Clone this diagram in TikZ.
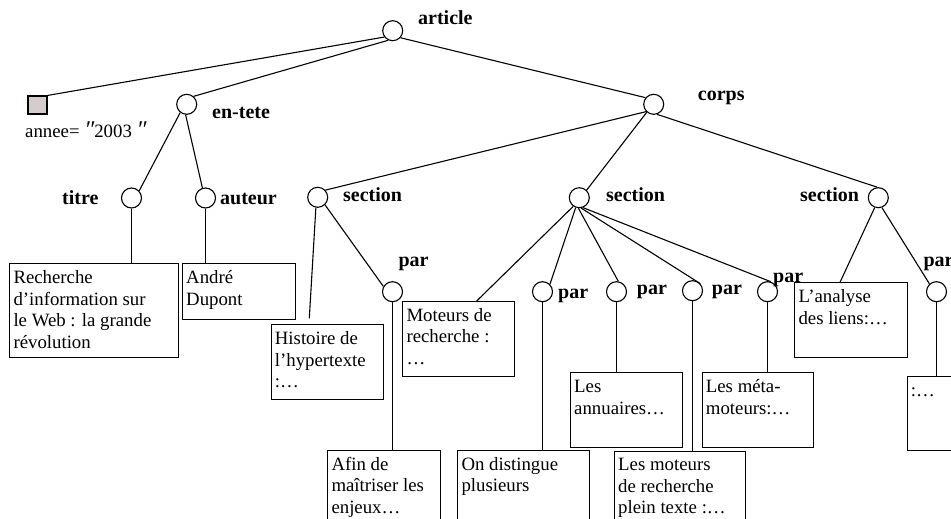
\documentclass[tikz,border=0pt]{standalone}
\usepackage{fontspec}
\setmainfont{Liberation Serif}
\usetikzlibrary{calc}
\definecolor{sqfill}{RGB}{213,205,203}
\newcommand{\dprime}{{\itshape\fontsize{24}{24}\selectfont ″}}
\tikzset{
  nd/.style={circle, draw, minimum size=20pt, inner sep=0pt, line width=1.1pt},
  lbl/.style={font=\fontsize{20}{24}\selectfont\bfseries, inner sep=0pt, anchor=base west},
  pbox/.style={draw, line width=1.1pt, inner sep=0pt, anchor=north west},
  btxt/.style={font=\fontsize{18.8}{21.5}\selectfont, inner sep=0pt, anchor=north west, align=left},
  edge/.style={line width=1.1pt},
}
\begin{document}
\begin{tikzpicture}[x=1pt,y=-1pt]
\useasboundingbox (0,0) rectangle (951,519);
% tree nodes
\node[nd] (article) at (392.7,30.7) {};
\node[draw, line width=1.1pt, fill=sqfill, minimum width=19pt, minimum height=18pt, inner sep=0pt] (sq) at (37.5,105) {};
\node[nd] (entete) at (186.7,104.3) {};
\node[nd] (corps) at (653.7,104.3) {};
\node[nd] (titre) at (131.5,198) {};
\node[nd] (auteur) at (205.5,198) {};
\node[nd] (sec1) at (317.7,197.3) {};
\node[nd] (sec2) at (579.3,197.7) {};
\node[nd] (sec3) at (878.3,197.7) {};
\node[nd] (par1) at (392.5,291.7) {};
\node[nd] (par2a) at (542.5,291.7) {};
\node[nd] (par2b) at (616.5,291.7) {};
\node[nd] (par2c) at (692.5,290.7) {};
\node[nd] (par2d) at (767.5,291.7) {};
\node[nd] (par3) at (936.5,291.7) {};
% labels
\node[lbl] (l-article) at (418,25) {article};
\node[lbl] (l-entete) at (212,118) {en-tete};
\node[lbl] (l-titre) at (62,204) {titre};
\node[lbl] (l-auteur) at (220,204) {auteur};
\node[lbl] (l-sec1) at (343,201.7) {section};
\node[lbl] (l-corps) at (697.7,100) {corps};
\node[lbl] (l-sec2) at (606,201.7) {section};
\node[lbl] (l-sec3) at (800,201.7) {section};
\node[lbl] (l-par1) at (398.3,266.7) {par};
\node[lbl] (l-par2a) at (558,298.3) {par};
\node[lbl] (l-par2b) at (636.7,294.3) {par};
\node[lbl] (l-par2c) at (711.7,294.3) {par};
\node[lbl] (l-par2d) at (773,282) {par};
\node[lbl] (l-par3) at (923.3,266) {par};
\node[font=\fontsize{18.8}{21.5}\selectfont, inner sep=0pt, anchor=base west] (annee) at (25,137) {annee= \dprime2003 \dprime};
% boxes
\node[pbox, minimum width=168.7pt, minimum height=93.4pt] (b1) at (9.3,263.3) {};
\node[pbox, minimum width=113pt, minimum height=55.7pt] (b2) at (182,263.3) {};
\node[pbox, minimum width=112.6pt, minimum height=75pt] (b3) at (270.7,324.3) {};
\node[pbox, minimum width=112pt, minimum height=75pt] (b4) at (402.3,301) {};
\node[pbox, minimum width=112.7pt, minimum height=80pt] (b5) at (327.3,450) {};
\node[pbox, minimum width=131.7pt, minimum height=80pt] (b6) at (457.3,450) {};
\node[pbox, minimum width=112.3pt, minimum height=74.4pt] (b7) at (570,372.3) {};
\node[pbox, minimum width=131pt, minimum height=80pt] (b8) at (614,450.7) {};
\node[pbox, minimum width=111.6pt, minimum height=74.4pt] (b9) at (701.7,372.3) {};
\node[pbox, minimum width=112.4pt, minimum height=74.4pt] (b10) at (794.3,282.3) {};
\node[pbox, minimum width=112pt, minimum height=74pt] (b11) at (906.7,376) {};
% box texts
\node[btxt] (t1) at ($(b1.north west)+(4,5)$) {\strut Recherche\\d’information sur\\le Web : la grande\\révolution};
\node[btxt] (t2) at ($(b2.north west)+(4,5)$) {\strut André\\Dupont};
\node[btxt] (t3) at ($(b3.north west)+(4,5)$) {\strut Histoire de\\l’hypertexte\\ :…};
\node[btxt] (t4) at ($(b4.north west)+(4,5)$) {\strut Moteurs de\\recherche :\\…};
\node[btxt] (t5) at ($(b5.north west)+(4,5)$) {\strut Afin de\\maîtriser les\\enjeux…};
\node[btxt] (t6) at ($(b6.north west)+(4,5)$) {\strut On distingue\\plusieurs};
\node[btxt] (t7) at ($(b7.north west)+(4,5)$) {\strut Les\\annuaires…};
\node[btxt] (t8) at ($(b8.north west)+(4,5)$) {\strut Les moteurs\\de recherche\\plein texte :…};
\node[btxt] (t9) at ($(b9.north west)+(4,5)$) {\strut Les méta-\\moteurs:…};
\node[btxt] (t10) at ($(b10.north west)+(4,5)$) {\strut L’analyse\\des liens:…};
\node[btxt] (t11) at ($(b11.north west)+(4,5)$) {\strut :…};
% helper coordinates on box tops
\coordinate (h3) at ($(b3.north west)+(38.6,-6)$);
\coordinate (h4) at ($(b4.north west)+(74.4,0)$);
\coordinate (h10) at ($(b10.north west)+(45.7,0)$);
% connectors
\draw[edge] (article.217) -- (sq.north east);
\draw[edge] (article.245) -- (entete.49);
\draw[edge] (article.318) -- (corps.141);
\draw[edge] (entete.232) -- (titre.43);
\draw[edge] (entete.264) -- (auteur.107);
\draw[edge] (corps.224) -- (sec1.43);
\draw[edge] (corps.229) -- (sec2.46);
\draw[edge] (corps.288) -- (sec3.96);
\draw[edge] (titre.south) -- (titre.south |- b1.north);
\draw[edge] (auteur.south) -- (auteur.south |- b2.north);
\draw[edge] (sec1.260) -- (h3);
\draw[edge] (sec1.314) -- (par1.150);
\draw[edge] (par1.south) -- (par1.south |- b5.north);
\draw[edge] (sec2.235) -- (h4);
\draw[edge] (sec2.250) -- (par2a.45);
\draw[edge] (sec2.265) -- (par2b.80);
\draw[edge] (sec2.280) -- (par2c.42);
\draw[edge] (sec2.290) -- (par2d.72);
\draw[edge] (par2a.south) -- (par2a.south |- b6.north);
\draw[edge] (par2b.south) -- (par2b.south |- b7.north);
\draw[edge] (par2c.south) -- (par2c.south |- b8.north);
\draw[edge] (par2d.south) -- (par2d.south |- b9.north);
\draw[edge] (sec3.250) -- (h10);
\draw[edge] (sec3.290) -- (par3.132);
\draw[edge] (par3.south) -- (par3.south |- b11.north);
\end{tikzpicture}
\end{document}
